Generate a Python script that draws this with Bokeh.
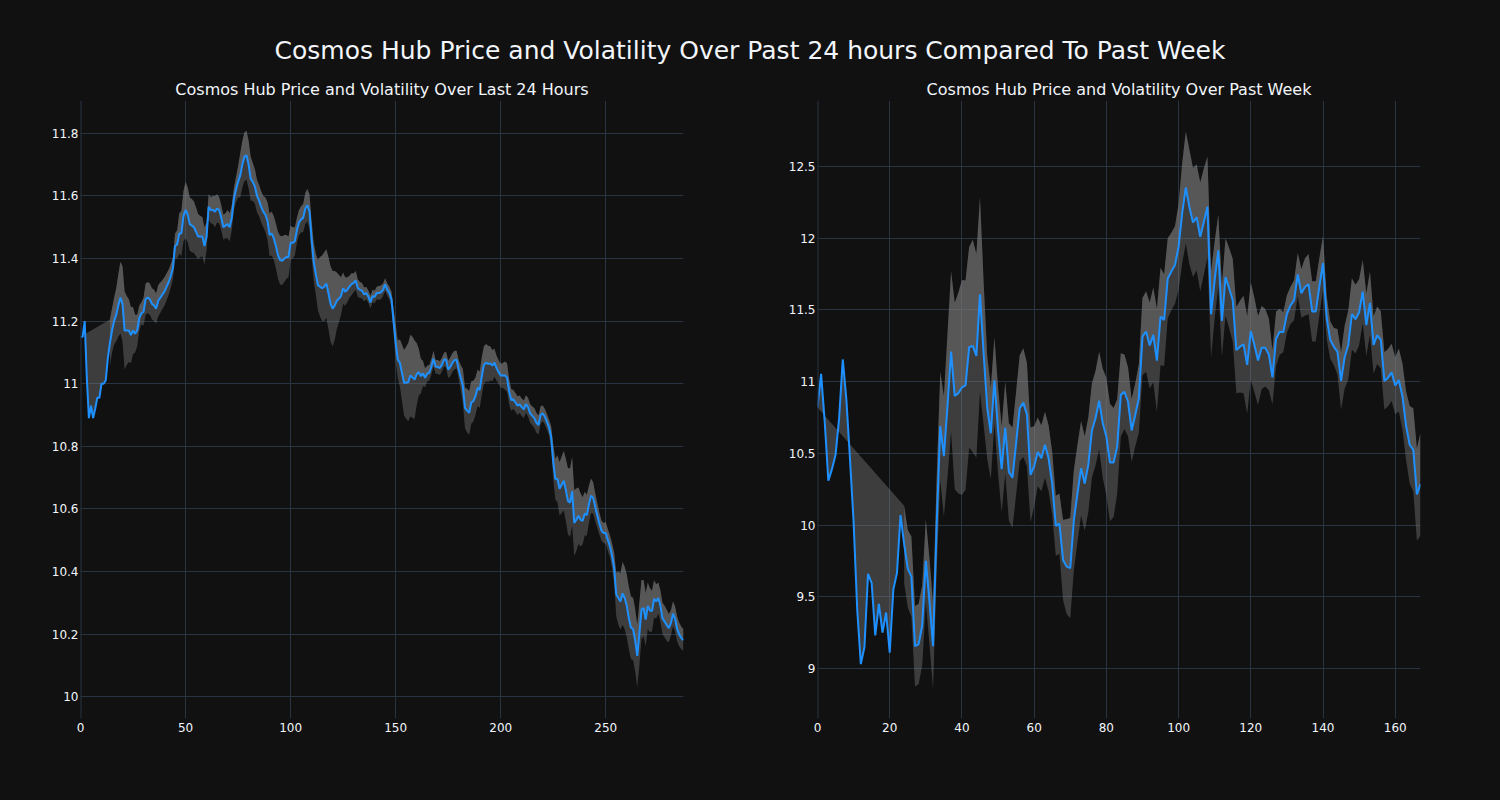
import math
from bokeh.plotting import figure
from bokeh.layouts import row, column
from bokeh.models import Div, FixedTicker, CustomJSTickFormatter, Span
from bokeh.embed import file_html
from bokeh.resources import INLINE

MAIN_TITLE = "Cosmos Hub Price and Volatility Over Past 24 hours Compared To Past Week"
DAY_TITLE = "Cosmos Hub Price and Volatility Over Last 24 Hours"
WEEK_TITLE = "Cosmos Hub Price and Volatility Over Past Week"

# ---- last 24 hours (5-minute steps) ----
day_price = [
    11.15, 11.15, 11.20, 11.02, 10.89, 10.93, 10.89, 10.92, 10.955, 10.955,
    11.00, 11.00, 11.01, 11.08, 11.13, 11.17, 11.20, 11.22, 11.25, 11.275,
    11.255, 11.17, 11.17, 11.17, 11.155, 11.17, 11.16, 11.17, 11.21, 11.225,
    11.23, 11.27, 11.275, 11.27, 11.255, 11.25, 11.24, 11.265, 11.275, 11.285,
    11.295, 11.31, 11.325, 11.345, 11.37, 11.44, 11.445, 11.48, 11.48, 11.535,
    11.555, 11.54, 11.51, 11.505, 11.50, 11.485, 11.47, 11.47, 11.47, 11.44,
    11.47, 11.565, 11.555, 11.555, 11.55, 11.56, 11.555, 11.53, 11.50, 11.505,
    11.51, 11.50, 11.53, 11.59, 11.62, 11.645, 11.665, 11.70, 11.725, 11.73,
    11.70, 11.655, 11.645, 11.63, 11.60, 11.585, 11.565, 11.55, 11.54, 11.52,
    11.475, 11.48, 11.465, 11.44, 11.41, 11.395, 11.393, 11.40, 11.405, 11.405,
    11.45, 11.45, 11.455, 11.49, 11.515, 11.525, 11.53, 11.56, 11.57, 11.55,
    11.46, 11.39, 11.35, 11.315, 11.31, 11.305, 11.31, 11.32, 11.29, 11.255,
    11.24, 11.25, 11.265, 11.272, 11.28, 11.305, 11.294, 11.30, 11.31, 11.318,
    11.322, 11.33, 11.305, 11.30, 11.297, 11.285, 11.29, 11.278, 11.26, 11.28,
    11.277, 11.29, 11.29, 11.292, 11.30, 11.317, 11.30, 11.29, 11.27, 11.20,
    11.13, 11.077, 11.067, 11.035, 11.003, 11.003, 11.005, 11.026, 11.02, 11.013,
    11.03, 11.037, 11.024, 11.033, 11.019, 11.032, 11.035, 11.054, 11.08, 11.054,
    11.054, 11.05, 11.06, 11.077, 11.077, 11.045, 11.054, 11.067, 11.075, 11.077,
    11.045, 11.019, 10.992, 10.923, 10.914, 10.907, 10.94, 10.944, 10.96, 10.987,
    10.98, 11.024, 11.06, 11.067, 11.063, 11.065, 11.058, 11.067, 11.05, 11.037,
    11.026, 11.026, 11.026, 11.02, 10.975, 10.948, 10.95, 10.94, 10.93, 10.934,
    10.925, 10.918, 10.935, 10.925, 10.905, 10.897, 10.89, 10.875, 10.868, 10.90,
    10.905, 10.894, 10.878, 10.86, 10.83, 10.75, 10.695, 10.696, 10.664, 10.677,
    10.69, 10.66, 10.625, 10.62, 10.656, 10.555, 10.565, 10.578, 10.565, 10.562,
    10.585, 10.58, 10.615, 10.642, 10.635, 10.605, 10.578, 10.552, 10.53, 10.523,
    10.523, 10.50, 10.48, 10.45, 10.41, 10.326, 10.315, 10.304, 10.33, 10.315,
    10.29, 10.25, 10.22, 10.216, 10.18, 10.13, 10.20, 10.278, 10.283, 10.246,
    10.29, 10.276, 10.273, 10.312, 10.304, 10.315, 10.29, 10.25, 10.24, 10.228,
    10.219, 10.235, 10.265, 10.248, 10.215, 10.198, 10.187, 10.18,
]
day_vol_start = 14
day_vol = [
    0.075, 0.07, 0.075, 0.085, 0.10, 0.115,
    0.12, 0.125, 0.11, 0.10, 0.09, 0.075, 0.06, 0.05, 0.04, 0.035,
    0.045, 0.05, 0.05, 0.05, 0.05, 0.05, 0.048, 0.05, 0.048, 0.046,
    0.045, 0.043, 0.04, 0.038, 0.035, 0.04, 0.045, 0.065, 0.072, 0.08,
    0.09, 0.088, 0.085, 0.085, 0.082, 0.078, 0.072, 0.066, 0.063, 0.06,
    0.045, 0.04, 0.042, 0.045, 0.05, 0.045, 0.042, 0.04, 0.04, 0.04,
    0.045, 0.045, 0.04, 0.035, 0.04, 0.05, 0.07, 0.075, 0.078, 0.078,
    0.077, 0.07, 0.06, 0.055, 0.052, 0.05, 0.05, 0.05, 0.055, 0.06,
    0.068, 0.07, 0.07, 0.072, 0.075, 0.078, 0.078, 0.075, 0.07, 0.065,
    0.055, 0.05, 0.045, 0.04, 0.04, 0.042, 0.045, 0.05, 0.052, 0.055,
    0.058, 0.06, 0.065, 0.08, 0.095, 0.105, 0.11, 0.11, 0.115, 0.12,
    0.12, 0.11, 0.09, 0.075, 0.06, 0.05, 0.045, 0.04, 0.035, 0.035,
    0.03, 0.03, 0.028, 0.025, 0.025, 0.022, 0.02, 0.02, 0.02, 0.02,
    0.02, 0.02, 0.022, 0.022, 0.02, 0.02, 0.02, 0.02, 0.025, 0.04,
    0.06, 0.06, 0.075, 0.09, 0.105, 0.115, 0.125, 0.13, 0.13, 0.125,
    0.10, 0.075, 0.055, 0.04, 0.03, 0.025, 0.025, 0.025, 0.025, 0.022,
    0.022, 0.022, 0.022, 0.022, 0.025, 0.028, 0.03, 0.03, 0.03, 0.028,
    0.03, 0.04, 0.055, 0.065, 0.07, 0.07, 0.068, 0.065, 0.06, 0.058,
    0.058, 0.06, 0.06, 0.06, 0.058, 0.055, 0.05, 0.045, 0.04, 0.038,
    0.038, 0.04, 0.045, 0.045, 0.04, 0.035, 0.03, 0.03, 0.03, 0.028,
    0.028, 0.028, 0.028, 0.03, 0.03, 0.03, 0.032, 0.032, 0.03, 0.028,
    0.025, 0.025, 0.025, 0.025, 0.035, 0.055, 0.065, 0.075, 0.085, 0.09,
    0.095, 0.10, 0.105, 0.11, 0.11, 0.105, 0.10, 0.09, 0.085, 0.075,
    0.07, 0.065, 0.06, 0.055, 0.05, 0.045, 0.04, 0.035, 0.032, 0.032,
    0.035, 0.035, 0.035, 0.04, 0.05, 0.07, 0.085, 0.09, 0.10, 0.10,
    0.10, 0.10, 0.10, 0.10, 0.10, 0.10, 0.10, 0.095, 0.09, 0.085,
    0.075, 0.07, 0.065, 0.06, 0.055, 0.05, 0.05, 0.05, 0.05, 0.05,
    0.045, 0.04, 0.04, 0.04, 0.04, 0.038, 0.036, 0.035,
]
day_xticks = [0, 50, 100, 150, 200, 250]
day_yticks = [10.0, 10.2, 10.4, 10.6, 10.8, 11.0, 11.2, 11.4, 11.6, 11.8]
day_xrange = (0, 287)
day_yrange = (9.93, 11.905)

# ---- past week (hourly steps) ----
week_price = [
    10.82, 11.055, 10.72, 10.31, 10.39, 10.49, 10.75, 11.155, 10.875, 10.46,
    10.02, 9.41, 9.03, 9.15, 9.66, 9.595, 9.23, 9.45, 9.25, 9.39,
    9.11, 9.55, 9.665, 10.07, 9.865, 9.695, 9.64, 9.155, 9.17, 9.30,
    9.75, 9.47, 9.155, 9.995, 10.69, 10.48, 10.83, 11.21, 10.90, 10.92,
    10.96, 10.975, 11.24, 11.25, 11.18, 11.61, 11.20, 10.82, 10.64, 11.01,
    10.66, 10.39, 10.68, 10.37, 10.33, 10.57, 10.815, 10.854, 10.77, 10.35,
    10.41, 10.51, 10.466, 10.56, 10.466, 10.29, 9.994, 10.01, 9.757, 9.71,
    9.70, 10.035, 10.22, 10.396, 10.29, 10.42, 10.66, 10.745, 10.868, 10.71,
    10.617, 10.436, 10.436, 10.547, 10.908, 10.93, 10.86, 10.66, 10.768, 10.884,
    11.314, 11.35, 11.252, 11.326, 11.147, 11.454, 11.43, 11.72, 11.768, 11.814,
    11.94, 12.175, 12.354, 12.217, 12.11, 12.147, 12.01, 12.116, 12.22, 11.47,
    11.71, 11.916, 11.424, 11.73, 11.652, 11.568, 11.22, 11.244, 11.26, 11.117,
    11.352, 11.256, 11.148, 11.237, 11.237, 11.19, 11.03, 11.30, 11.348, 11.345,
    11.472, 11.532, 11.568, 11.748, 11.616, 11.66, 11.68, 11.49, 11.49, 11.664,
    11.827, 11.448, 11.292, 11.244, 11.208, 11.005, 11.172, 11.256, 11.472, 11.436,
    11.484, 11.628, 11.395, 11.549, 11.256, 11.324, 11.292, 11.005, 11.028, 11.065,
    10.973, 11.012, 10.897, 10.693, 10.56, 10.525, 10.213, 10.285,
]
week_vol_start = 24
week_vol = [
    0.27, 0.27, 0.28, 0.28, 0.28, 0.28,
    0.29, 0.30, 0.30, 0.33, 0.38, 0.42, 0.50, 0.56, 0.65, 0.70,
    0.75, 0.73, 0.70, 0.74, 0.71, 0.68, 0.50, 0.36, 0.32, 0.30,
    0.30, 0.30, 0.32, 0.34, 0.35, 0.36, 0.37, 0.38, 0.36, 0.33,
    0.28, 0.24, 0.23, 0.23, 0.23, 0.22, 0.21, 0.21, 0.28, 0.33,
    0.35, 0.35, 0.34, 0.33, 0.33, 0.33, 0.33, 0.33, 0.34, 0.38,
    0.41, 0.41, 0.38, 0.33, 0.29, 0.26, 0.24, 0.22, 0.22, 0.24,
    0.27, 0.28, 0.30, 0.33, 0.36, 0.34, 0.32, 0.28, 0.27, 0.27,
    0.30, 0.35, 0.39, 0.40, 0.38, 0.37, 0.38, 0.37, 0.35, 0.30,
    0.27, 0.25, 0.25, 0.27, 0.28, 0.29, 0.30, 0.32, 0.34, 0.34,
    0.34, 0.33, 0.31, 0.29, 0.27, 0.25, 0.19, 0.19, 0.16, 0.14,
    0.13, 0.13, 0.14, 0.15, 0.17, 0.20, 0.21, 0.21, 0.21, 0.20,
    0.19, 0.15, 0.13, 0.13, 0.16, 0.20, 0.22, 0.24, 0.25, 0.24,
    0.23, 0.22, 0.22, 0.22, 0.20, 0.20, 0.20, 0.20, 0.20, 0.20,
    0.20, 0.22, 0.23, 0.24, 0.27, 0.29, 0.32, 0.36,
]
week_xticks = [0, 20, 40, 60, 80, 100, 120, 140, 160]
week_yticks = [9.0, 9.5, 10.0, 10.5, 11.0, 11.5, 12.0, 12.5]
week_xrange = (0, 167)
week_yrange = (8.651, 12.961)

BG = "#111111"
GRID = "#283442"
TXT = "#f2f5fa"
FONT = "DejaVu Sans"
LINE = "#1e90ff"


def panel(title, price, vol, start, xticks, yticks, xr, yr, bl, br):
    p = figure(width=bl + 603 + br, height=690, x_range=xr, y_range=yr,
               output_backend="svg", toolbar_location=None,
               min_border_left=bl, min_border_right=br,
               min_border_top=28, min_border_bottom=44,
               background_fill_color=BG, border_fill_color=BG,
               outline_line_color=None, title=title)
    p.title.align = "center"
    p.title.text_color = TXT
    p.title.text_font = FONT
    p.title.text_font_size = "16px"
    p.title.text_font_style = "normal"
    p.title.standoff = 4

    x = list(range(len(price)))
    xs = x[start:]
    upper = [price[i] + vol[i - start] for i in xs]
    lower = [price[i] - vol[i - start] for i in xs]
    # fill between the upper band and the price line (plotly 'tonexty' style)
    p.patch(xs + x[::-1], upper + price[::-1], fill_color="gray",
            fill_alpha=0.4, line_color=None)
    # fill between the lower band and the upper band
    p.patch(xs + xs[::-1], lower + upper[::-1], fill_color="gray",
            fill_alpha=0.4, line_color=None)
    p.line(x, price, line_color=LINE, line_width=2)

    p.add_layout(Span(location=0, dimension="height", line_color=GRID,
                      line_width=2))

    fmt = CustomJSTickFormatter(code="return String(Math.round(tick*10)/10);")
    for ax, ticks in ((p.xaxis, xticks), (p.yaxis, yticks)):
        ax.ticker = FixedTicker(ticks=ticks)
        ax.formatter = fmt
        ax.axis_line_color = None
        ax.major_tick_line_color = None
        ax.minor_tick_line_color = None
        ax.major_tick_out = 0
        ax.major_tick_in = 0
        ax.major_label_text_color = TXT
        ax.major_label_text_font = FONT
        ax.major_label_text_font_size = "12px"
    p.xaxis.major_label_standoff = 4
    p.yaxis.major_label_standoff = 2
    p.xgrid.grid_line_color = GRID
    p.ygrid.grid_line_color = GRID
    return p


p1 = panel(DAY_TITLE, day_price, day_vol, day_vol_start, day_xticks,
           day_yticks, day_xrange, day_yrange, 80, 10)
p2 = panel(WEEK_TITLE, week_price, week_vol, week_vol_start, week_xticks,
           week_yticks, week_xrange, week_yrange, 124, 80)

head = Div(text=(f"<div style=\"width:1500px;text-align:center;"
                 f"font-family:'{FONT}';font-size:25px;color:{TXT};"
                 f"padding-top:32px;line-height:28px;white-space:nowrap;"
                 f"position:relative;left:-5px;\">"
                 f"{MAIN_TITLE}</div>"),
           width=1500, height=62)

layout = column(head, row(p1, p2), styles={"background-color": BG})

html = file_html(layout, INLINE, title="Cosmos Hub")
html = html.replace(
    "</head>",
    "<style>html,body{background-color:#111111 !important;}</style></head>", 1)
open("out.html", "w").write(html)
